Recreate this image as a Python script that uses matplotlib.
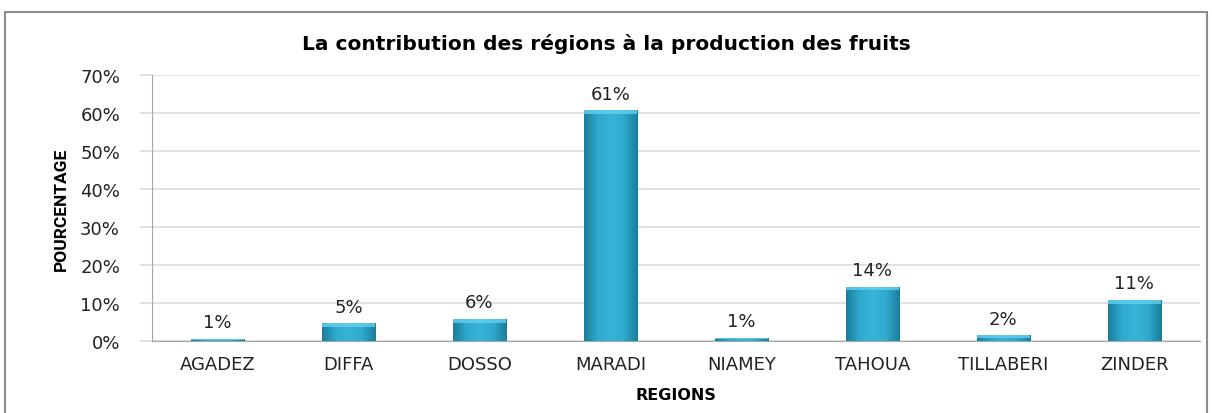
import numpy as np
import matplotlib
matplotlib.use("Agg")
import matplotlib.pyplot as plt
from matplotlib.patches import Rectangle
from matplotlib.colors import LinearSegmentedColormap

plt.rcParams["font.family"] = ["DejaVu Sans"]

regions = ["AGADEZ", "DIFFA", "DOSSO", "MARADI", "NIAMEY", "TAHOUA", "TILLABERI", "ZINDER"]
values = [0.6, 4.6, 5.8, 60.8, 0.8, 14.3, 1.5, 10.8]
yticks = [0, 10, 20, 30, 40, 50, 60, 70]

fig = plt.figure(figsize=(12.12, 4.14), dpi=100)
ax = fig.add_axes([0.1254, 0.174, 0.8646, 0.642])

# outer chart frame
fig.patches.append(Rectangle((5/1212, -0.01), 1202/1212, 1.01 - 13/414, transform=fig.transFigure,
                             fill=False, ec="#8c8c8c", lw=1.5))

x = np.arange(len(regions))
bars = ax.bar(x, values, width=0.41, color="#2fa6c9", edgecolor="#1d7f9c", lw=0.6, zorder=3)

# shaded bevel look like the excel bars
cmap = LinearSegmentedColormap.from_list("b", ["#1c7d9b", "#2fa9ce", "#38b4d8", "#2fa9ce", "#1c7d9b"])
grad = np.linspace(0, 1, 64).reshape(1, -1)
for b in bars:
    x0, w, h = b.get_x(), b.get_width(), b.get_height()
    im = ax.imshow(grad, cmap=cmap, aspect="auto", extent=(x0, x0 + w, 0, h), zorder=3.5)
    im.set_clip_path(b)
    bev = min(1.0, h * 0.5)
    ax.add_patch(Rectangle((x0, h - bev), w, bev, color="#62d2ee", alpha=0.8, lw=0, zorder=4))

for xi, v in zip(x, values):
    ax.text(xi, v + 2, f"{v:.0f}%", ha="center", va="bottom", fontsize=13, color="#222222")

ax.set_xlim(-0.5, len(regions) - 0.5)
ax.set_ylim(0, 70)
ax.set_yticks(yticks)
ax.set_yticklabels([f"{t}%" for t in yticks], fontsize=13, color="#222222")
ax.set_xticks(x)
ax.set_xticklabels(regions, fontsize=13, color="#222222")
ax.tick_params(axis="x", length=0, pad=10)
ax.tick_params(axis="y", length=9, color="#dcdcdc", width=1.2, pad=14)
ax.grid(axis="y", color="#dcdcdc", lw=1.2, zorder=0)
for s in ["top", "right"]:
    ax.spines[s].set_visible(False)
ax.spines["left"].set_color("#a6a6a6")
ax.spines["bottom"].set_color("#a6a6a6")

ax.set_xlabel("REGIONS", fontsize=11.5, fontweight="bold", labelpad=10)
ax.set_ylabel("POURCENTAGE", fontsize=12.5, fontweight="bold", family="Roboto", labelpad=8)
fig.text(0.5, 1 - 44/414, "La contribution des régions à la production des fruits", ha="center", va="center",
         fontsize=14.5, fontweight="bold")

fig.savefig("out.png", dpi=100)
